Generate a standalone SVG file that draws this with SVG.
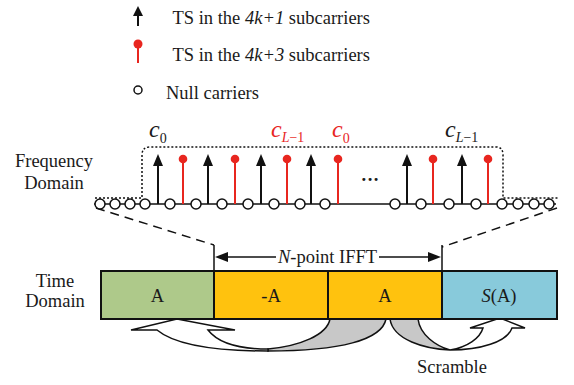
<svg xmlns="http://www.w3.org/2000/svg" xmlns:xlink="http://www.w3.org/1999/xlink" width="574" height="385" viewBox="0 0 574 385">
<style>
.t{font-family:"Liberation Serif","Times New Roman",serif;font-size:18.5px;fill:#1a1a1a}
.i{font-style:italic}
.box{stroke:#111;stroke-width:2}
.ax{stroke:#111;stroke-width:1.6;fill:none}
.dot{stroke:#111;stroke-width:1.5;fill:none;stroke-dasharray:2 2}
.dash{stroke:#111;stroke-width:1.5;fill:none;stroke-dasharray:9 6}
.null{fill:#fff;stroke:#111;stroke-width:1.5}
.red{fill:#e8261f}
.blk{fill:#111}
.cl{font-family:"Liberation Serif","Times New Roman",serif;font-style:italic}
.bend{stroke:#111;stroke-width:1.5;stroke-linejoin:miter}
</style>
<defs>
<g id="ts"><line x1="0" y1="0" x2="0" y2="-40" stroke="#111" stroke-width="2"/><polygon points="0,-50 -5,-38 5,-38" class="blk"/></g>
<g id="rp"><line x1="0" y1="0" x2="0" y2="-45" stroke="#e8261f" stroke-width="2"/><circle cx="0" cy="-45" r="4.3" class="red"/></g>
<circle id="nc" cx="0" cy="0" r="5" class="null"/>
</defs>

<g id="legend">
<g id="legend-ts1"><line x1="138" y1="26" x2="138" y2="14" stroke="#111" stroke-width="2"/><polygon points="138,6 133,16 143,16" class="blk"/>
<text class="t" x="172.5" y="24">TS in the <tspan class="i">4k+1</tspan> subcarriers</text></g>
<g id="legend-ts3"><line x1="138" y1="44" x2="138" y2="63" stroke="#e8261f" stroke-width="2"/><circle cx="138" cy="44" r="4.5" class="red"/>
<text class="t" x="172.5" y="61">TS in the <tspan class="i">4k+3</tspan> subcarriers</text></g>
<g id="legend-null"><circle cx="138" cy="90" r="4" class="null"/>
<text class="t" x="166" y="99">Null carriers</text></g>
</g>

<g id="freq-label"><text class="t" x="54" y="167" text-anchor="middle">Frequency</text><text class="t" x="54" y="189" text-anchor="middle">Domain</text></g>
<g id="time-label"><text class="t" x="55" y="287" text-anchor="middle">Time</text><text class="t" x="55" y="307" text-anchor="middle">Domain</text></g>

<g id="connectors">
<path class="dot" d="M95,198 L142,198 L142,155 Q142,147 150,147 L496,147 Q503,147 503,155 L503,198 L558,198"/>
<line class="ax" x1="94" y1="204" x2="556" y2="204"/>
<path class="dash" d="M96,208 L214,245"/>
<path class="dash" d="M557,208 L442,247"/>
<line x1="214" y1="245" x2="214" y2="271" stroke="#111" stroke-width="1.5"/>
<line x1="442" y1="245" x2="442" y2="271" stroke="#111" stroke-width="1.5"/>
<line x1="225" y1="257" x2="276" y2="257" stroke="#111" stroke-width="1.5"/>
<polygon points="215,257 228,252 228,262" class="blk"/>
<line x1="379" y1="257" x2="432" y2="257" stroke="#111" stroke-width="1.5"/>
<polygon points="441,257 428,252 428,262" class="blk"/>
</g>

<g id="freq-domain">
<use xlink:href="#nc" x="100" y="204"/><use xlink:href="#nc" x="115" y="204"/><use xlink:href="#nc" x="130" y="204"/><use xlink:href="#nc" x="145" y="204"/>
<use xlink:href="#ts" x="158" y="204"/><use xlink:href="#nc" x="170" y="204"/><use xlink:href="#rp" x="183" y="204"/><use xlink:href="#nc" x="196" y="204"/>
<use xlink:href="#ts" x="208" y="204"/><use xlink:href="#nc" x="222" y="204"/><use xlink:href="#rp" x="235" y="204"/><use xlink:href="#nc" x="248" y="204"/>
<use xlink:href="#ts" x="261" y="204"/><use xlink:href="#nc" x="274" y="204"/><use xlink:href="#rp" x="287" y="204"/><use xlink:href="#nc" x="300" y="204"/>
<use xlink:href="#ts" x="311" y="204"/><use xlink:href="#nc" x="325" y="204"/><use xlink:href="#rp" x="338" y="204"/>
<text class="t" x="370" y="186" text-anchor="middle" font-size="18" font-weight="bold">···</text>
<use xlink:href="#nc" x="395" y="204"/><use xlink:href="#ts" x="407" y="204"/><use xlink:href="#nc" x="421" y="204"/><use xlink:href="#rp" x="433" y="204"/>
<use xlink:href="#nc" x="449" y="204"/><use xlink:href="#ts" x="462" y="204"/><use xlink:href="#nc" x="476" y="204"/><use xlink:href="#rp" x="488" y="204"/>
<use xlink:href="#nc" x="502" y="204"/><use xlink:href="#nc" x="518" y="204"/><use xlink:href="#nc" x="534" y="204"/><use xlink:href="#nc" x="549" y="204"/>
</g>

<g id="c-labels">
<text class="cl" x="149" y="137" font-size="24" fill="#1a1a1a">c<tspan font-size="14" font-style="normal" dy="6">0</tspan></text>
<text class="cl" x="271" y="137" font-size="24" fill="#e8261f">c<tspan font-size="14" dy="5">L</tspan><tspan font-size="14" font-style="normal">−1</tspan></text>
<text class="cl" x="332" y="137" font-size="24" fill="#e8261f">c<tspan font-size="14" font-style="normal" dy="6">0</tspan></text>
<text class="cl" x="445" y="137" font-size="24" fill="#1a1a1a">c<tspan font-size="14" dy="5">L</tspan><tspan font-size="14" font-style="normal">−1</tspan></text>
</g>

<g id="ifft-label"><text class="t" x="327.5" y="263" text-anchor="middle"><tspan class="i">N</tspan>-point IFFT</text></g>

<g id="curved-arrows">
<path class="bend" fill="#c8c8c8" d="M268,349 C300,346 327,335 330,319 L386,319 C382,340 340,351 268,351 Z"/>
<path class="bend" fill="#fff" d="M268,351 C215,351 175,345 157,330 L131,330 L177,319 L235,330 L208,330 C218,343 240,349 268,349 Z"/>
<path class="bend" fill="#c8c8c8" d="M390,319 C393,340 425,349 450,350 C436,346 420,335 418,319 Z"/>
<path class="bend" fill="#fff" d="M450,350 C468,347 480,338 483,328 L470,328 L500,318 L525,328 L512,328 C507,342 480,350 450,350 Z"/>
</g>

<g id="box-1"><rect class="box" x="101" y="271" width="113" height="48" fill="#aec98a"/><text class="t" x="157.5" y="302" text-anchor="middle" font-size="21">A</text></g>
<g id="box-2"><rect class="box" x="214" y="271" width="114" height="48" fill="#ffc20e"/><text class="t" x="271" y="302" text-anchor="middle" font-size="21">-A</text></g>
<g id="box-3"><rect class="box" x="328" y="271" width="114" height="48" fill="#ffc20e"/><text class="t" x="385" y="302" text-anchor="middle" font-size="21">A</text></g>
<g id="box-4"><rect class="box" x="442" y="271" width="115" height="48" fill="#88cadb"/><text class="t" x="499" y="302" text-anchor="middle" font-size="21"><tspan class="i">S</tspan>(A)</text></g>

<g id="scramble-label"><text class="t" x="452" y="373" text-anchor="middle">Scramble</text></g>
</svg>
